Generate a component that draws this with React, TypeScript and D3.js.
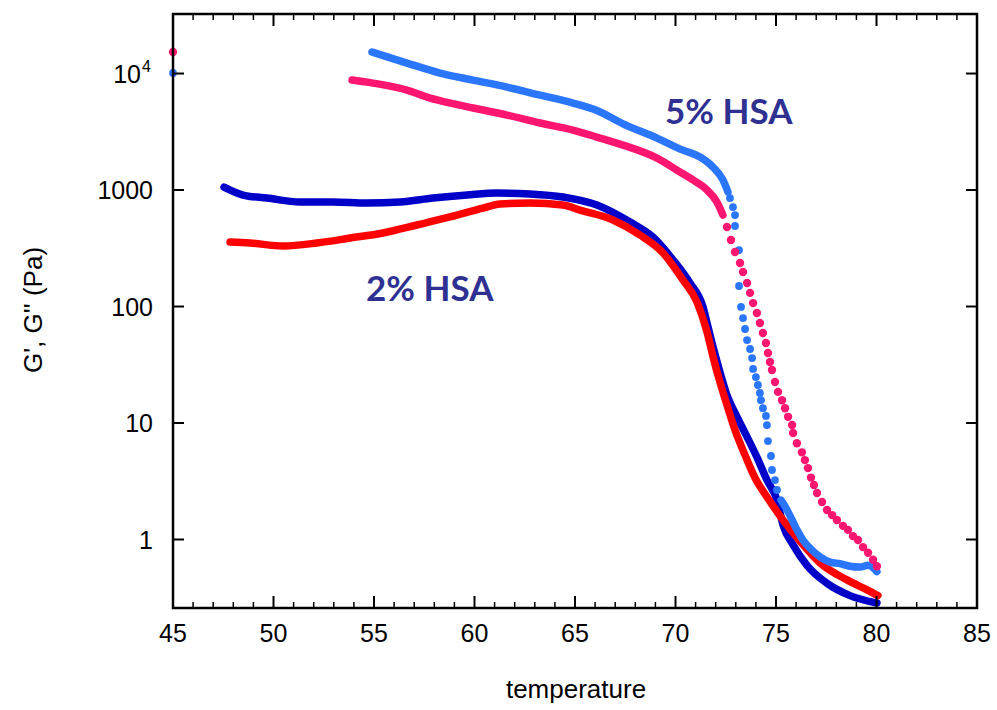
import * as d3 from "d3";

// axis ticks
const tempTicks = [45, 50, 55, 60, 65, 70, 75, 80, 85];
const tempMinorTicks = [46, 47, 48, 49, 51, 52, 53, 54, 56, 57, 58, 59, 61, 62, 63, 64, 66, 67, 68, 69, 71, 72, 73, 74, 76, 77, 78, 79, 81, 82, 83, 84];
const modTicks = [1, 10, 100, 1000, 10000];
const modTickLabels = ["1", "10", "100", "1000", "10"];

// 2% HSA, G' (dark blue)
const hsa2GpT = [47.54, 48.48, 49.68, 51.32, 52.96, 54.65, 56.29, 57.94, 59.63, 61.12, 62.76, 64.4, 66.09, 67.74, 68.88, 69.88, 70.72, 71.37, 71.57, 71.72, 71.87, 72.21, 72.56, 73.06, 73.56, 74.05, 74.55, 75.05, 75.35, 75.85, 76.54, 77.54, 78.68, 80.02];
const hsa2GpG = [1060, 906, 853, 789, 789, 773, 789, 853, 906, 942, 925, 871, 743, 531, 395, 251, 159, 99, 72.1, 56.9, 44.9, 27.4, 17.4, 11.3, 7.6, 5.1, 3.24, 2.18, 1.33, 0.9, 0.6, 0.42, 0.33, 0.285];

// 2% HSA, G'' (red)
const hsa2GppT = [47.84, 48.83, 50.47, 52.16, 53.81, 55.45, 57.14, 58.78, 60.42, 61.27, 62.76, 64.4, 65.25, 66.89, 68.23, 69.38, 70.37, 71.07, 71.57, 71.87, 72.21, 72.56, 72.96, 73.46, 73.96, 74.55, 75.35, 76.19, 77.19, 78.53, 79.53, 80.07];
const hsa2GppG = [358, 351, 331, 351, 387, 428, 501, 587, 700, 758, 773, 743, 673, 553, 411, 288, 169, 109, 60.4, 36.9, 22.5, 14.3, 8.7, 5.3, 3.37, 2.32, 1.47, 0.97, 0.63, 0.45, 0.37, 0.33];

// 5% HSA, G' (light blue): smooth head, sparse dots in the drop, smooth tail
const hsa5GpHeadT = [54.9, 56.64, 58.28, 59.93, 61.62, 63.26, 64.9, 66.09, 67.39, 69.08, 70.37, 71.22, 71.87, 72.36, 72.61];
const hsa5GpHeadG = [15300, 12300, 10100, 8790, 7650, 6530, 5580, 4810, 3700, 2790, 2200, 1920, 1570, 1220, 962];
const hsa5GpDotT = [45, 72.71, 72.86, 72.96, 72.96, 73.16, 73.16, 73.26, 73.36, 73.46, 73.56, 73.71, 73.81, 73.86, 74.0, 74.1, 74.2, 74.25, 74.35, 74.5, 74.55, 74.6, 74.75, 74.8, 74.95, 75.05];
const hsa5GpDotG = [10100, 853, 714, 610, 491, 305, 150, 99.1, 79.6, 64.1, 51.5, 43.2, 36.1, 29.1, 24.8, 21.2, 18.1, 15.7, 13.4, 11.5, 9.6, 7.0, 5.21, 3.95, 3.24, 2.66];
const hsa5GpTailT = [75.25, 75.55, 75.8, 76.04, 76.34, 76.79, 77.19, 77.69, 78.18, 78.68, 79.18, 79.58, 80.02];
const hsa5GpTailG = [2.18, 1.79, 1.47, 1.21, 0.99, 0.81, 0.71, 0.64, 0.62, 0.59, 0.58, 0.6, 0.53];

// 5% HSA, G'' (pink)
const hsa5GppHeadT = [53.91, 54.95, 56.64, 57.79, 58.28, 59.93, 61.62, 63.26, 64.9, 66.09, 67.39, 69.08, 70.22, 70.87, 71.57, 72.06, 72.36];
const hsa5GppHeadG = [8790, 8280, 7210, 6150, 5850, 5060, 4400, 3760, 3270, 2850, 2430, 1880, 1430, 1220, 1000, 789, 610];
const hsa5GppDotT = [45, 72.56, 72.76, 72.96, 73.21, 73.36, 73.56, 73.71, 73.86, 74.05, 74.2, 74.35, 74.5, 74.6, 74.7, 74.8, 74.95, 75.1, 75.3, 75.45, 75.6, 75.8, 75.85, 76.04, 76.29, 76.44, 76.59, 76.74, 76.89, 77.04, 77.29, 77.54, 77.79, 78.03, 78.33, 78.58, 78.83, 79.08, 79.33, 79.58, 79.83, 80.02];
const hsa5GppDotG = [15300, 481, 372, 294, 236, 198, 159, 131, 107, 87.9, 72.1, 59.3, 48.6, 39.9, 33.4, 28.5, 22.5, 18.5, 15.7, 13.4, 11.3, 9.6, 8.2, 6.7, 5.6, 4.8, 4.1, 3.4, 2.94, 2.51, 2.1, 1.79, 1.62, 1.47, 1.31, 1.21, 1.07, 0.99, 0.86, 0.77, 0.67, 0.59];

const zip = (t: number[], g: number[]) => t.map((v, i) => [v, g[i]] as [number, number]);

const series = [
  { color: "#0000c8", lines: [zip(hsa2GpT, hsa2GpG)], dots: [] as [number, number][], r: 3.8 },
  { color: "#ff0000", lines: [zip(hsa2GppT, hsa2GppG)], dots: [] as [number, number][], r: 3.8 },
  { color: "#2b76ff", lines: [zip(hsa5GpHeadT, hsa5GpHeadG), zip(hsa5GpTailT, hsa5GpTailG)], dots: zip(hsa5GpDotT, hsa5GpDotG), r: 3.9 },
  { color: "#ff1670", lines: [zip(hsa5GppHeadT, hsa5GppHeadG)], dots: zip(hsa5GppDotT, hsa5GppDotG), r: 4.2 },
];

const W = 997;
const H = 710;
const left = 173, right = 977, top = 14, bottom = 608;
const font = "'Liberation Sans', Arial, sans-serif";

export default function App() {
  const x = d3.scaleLinear().domain([45, 85]).range([left, right]);
  const y = d3.scaleLog().domain([Math.pow(10, -0.588), Math.pow(10, 4.511)]).range([bottom, top]);
  const line = d3
    .line<[number, number]>()
    .x(d => x(d[0]))
    .y(d => y(d[1]))
    .curve(d3.curveMonotoneX);

  return (
    <svg width={W} height={H} style={{ position: "absolute", left: 0, top: 0, background: "#fff" }}>
      {/* series */}
      {series.map((s, i) => (
        <g key={i}>
          {s.lines.map((l, j) => (
            <path key={j} d={line(l) || ""} fill="none" stroke={s.color} strokeWidth={7.5}
              strokeLinecap="round" strokeLinejoin="round" />
          ))}
          {s.dots.map((d, j) => (
            <circle key={j} cx={x(d[0])} cy={y(d[1])} r={s.r} fill={s.color} />
          ))}
        </g>
      ))}

      {/* frame */}
      <rect x={left} y={top} width={right - left} height={bottom - top} fill="none" stroke="#000" strokeWidth={2.5} />

      {/* x ticks, bottom and top */}
      {tempTicks.map(t => (
        <g key={t}>
          <line x1={x(t)} x2={x(t)} y1={bottom} y2={bottom - 12} stroke="#000" strokeWidth={2} />
          <line x1={x(t)} x2={x(t)} y1={top} y2={top + 12} stroke="#000" strokeWidth={2} />
          <text x={x(t)} y={642} textAnchor="middle" fontFamily={font} fontSize={25} fill="#000">{t}</text>
        </g>
      ))}
      {tempMinorTicks.map(t => (
        <g key={t}>
          <line x1={x(t)} x2={x(t)} y1={bottom} y2={bottom - 6} stroke="#000" strokeWidth={1.5} />
          <line x1={x(t)} x2={x(t)} y1={top} y2={top + 6} stroke="#000" strokeWidth={1.5} />
        </g>
      ))}

      {/* y ticks, left and right */}
      {modTicks.map((v, i) => (
        <g key={v}>
          <line x1={left} x2={left + 11} y1={y(v)} y2={y(v)} stroke="#000" strokeWidth={2} />
          <line x1={right} x2={right - 11} y1={y(v)} y2={y(v)} stroke="#000" strokeWidth={2} />
          {v === 10000 ? (
            <text x={141} y={y(v) + 9} textAnchor="end" fontFamily={font} fontSize={25} fill="#000">
              {modTickLabels[i]}
              <tspan x={142} y={y(v) - 2} textAnchor="start" fontSize={16}>4</tspan>
            </text>
          ) : (
            <text x={153} y={y(v) + 9} textAnchor="end" fontFamily={font} fontSize={25} fill="#000">{modTickLabels[i]}</text>
          )}
        </g>
      ))}

      {/* axis titles */}
      <text x={576} y={698} textAnchor="middle" fontFamily={font} fontSize={26} fill="#000">temperature</text>
      <text transform="translate(42,310) rotate(-90)" textAnchor="middle" fontFamily={font} fontSize={26} fill="#000">
        G', G'' (Pa)
      </text>

      {/* annotations */}
      <text x={665} y={124} fontFamily="Lato, 'Open Sans', sans-serif" fontWeight="bold" fontSize={35} fill="#2e3192">5% HSA</text>
      <text x={366} y={301} fontFamily="Lato, 'Open Sans', sans-serif" fontWeight="bold" fontSize={35} fill="#2e3192">2% HSA</text>
    </svg>
  );
}
